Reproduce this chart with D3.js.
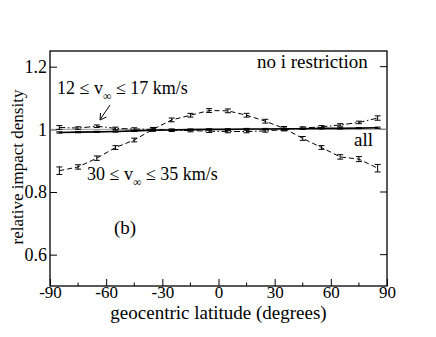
<!DOCTYPE html>
<html>
<head>
<meta charset="utf-8">
<script src="https://cdn.jsdelivr.net/npm/d3@7"></script>
<style>
  body { margin: 0; background: #fff; }
</style>
</head>
<body>
<div id="vis-container"></div>
<script>
const width = 436;
const height = 337;
const margin = { top: 51, right: 49, bottom: 51, left: 50 };
const serif = "'Liberation Serif', 'Times New Roman', Times, serif";

// latitude bin centres (degrees)
const latitudes = [-85, -75, -65, -55, -45, -35, -25, -15, -5, 5, 15, 25, 35, 45, 55, 65, 75, 85];

// 30 <= v_inf <= 35 km/s (dashed)
const fastVals = [0.868, 0.880, 0.908, 0.942, 0.966, 1.000, 1.030, 1.045, 1.060, 1.059, 1.045, 1.026, 1.003, 0.971, 0.942, 0.912, 0.905, 0.876];
const fastErr  = [0.012, 0.007, 0.007, 0.006, 0.006, 0.006, 0.006, 0.006, 0.006, 0.006, 0.006, 0.006, 0.006, 0.006, 0.006, 0.007, 0.008, 0.012];

// 12 <= v_inf <= 17 km/s (dash-dot)
const slowVals = [1.006, 1.004, 1.010, 1.003, 1.001, 1.000, 0.997, 0.996, 0.994, 0.993, 0.993, 0.995, 0.999, 1.004, 1.008, 1.014, 1.022, 1.036];
const slowErr  = [0.006, 0.004, 0.004, 0.004, 0.004, 0.004, 0.004, 0.004, 0.004, 0.004, 0.004, 0.004, 0.004, 0.004, 0.004, 0.004, 0.004, 0.007];

// all (solid)
const allVals = [0.990, 0.991, 0.992, 0.993, 0.995, 0.997, 0.998, 0.999, 1.000, 1.000, 1.001, 1.001, 1.002, 1.002, 1.003, 1.003, 1.004, 1.005];
const allErr  = [0.002, 0.002, 0.002, 0.002, 0.002, 0.002, 0.002, 0.002, 0.002, 0.002, 0.002, 0.002, 0.002, 0.002, 0.002, 0.002, 0.002, 0.002];

const xTicks = [-90, -60, -30, 0, 30, 60, 90];
const yTicks = [0.6, 0.8, 1, 1.2];

const svg = d3.select("#vis-container")
  .append("svg")
  .attr("width", width)
  .attr("height", height)
  .attr("font-family", serif);

const x = d3.scaleLinear()
  .domain([-90, 90])
  .range([margin.left, width - margin.right]);

const y = d3.scaleLinear()
  .domain([0.5, 1.25])
  .range([height - margin.bottom, margin.top]);

// frame
svg.append("rect")
  .attr("x", x(-90)).attr("y", y(1.25))
  .attr("width", x(90) - x(-90)).attr("height", y(0.5) - y(1.25))
  .attr("fill", "none").attr("stroke", "#000").attr("stroke-width", 1.3);

// bottom axis, ticks pointing inward, plain hyphen for minus
const xAxis = svg.append("g")
  .attr("transform", `translate(0,${y(0.5)})`)
  .call(d3.axisBottom(x).tickValues(xTicks).tickFormat((d) => String(d)).tickSizeInner(-7).tickSizeOuter(0).tickPadding(0));
xAxis.attr("font-family", serif);
xAxis.select(".domain").remove();
xAxis.selectAll("text").attr("font-size", "17px").attr("fill", "#000");

// minor x ticks
svg.selectAll(".xminor")
  .data(d3.range(-75, 90, 30))
  .enter().append("line")
  .attr("x1", (d) => x(d)).attr("x2", (d) => x(d))
  .attr("y1", y(0.5)).attr("y2", y(0.5) - 3.5)
  .attr("stroke", "#000");

// left axis
const yAxis = svg.append("g")
  .attr("transform", `translate(${x(-90)},0)`)
  .call(d3.axisLeft(y).tickValues(yTicks).tickFormat((d) => String(d)).tickSizeInner(-7).tickSizeOuter(0).tickPadding(3));
yAxis.attr("font-family", serif);
yAxis.select(".domain").remove();
yAxis.selectAll("text").attr("font-size", "18px").attr("fill", "#000");

// right ticks
svg.selectAll(".yright")
  .data(yTicks)
  .enter().append("line")
  .attr("x1", x(90)).attr("x2", x(90) - 7)
  .attr("y1", (d) => y(d)).attr("y2", (d) => y(d))
  .attr("stroke", "#000");

// reference line at 1
svg.append("line")
  .attr("x1", x(-90)).attr("x2", x(90))
  .attr("y1", y(1)).attr("y2", y(1))
  .attr("stroke", "#999").attr("stroke-width", 1);

const line = d3.line()
  .x((d) => x(d[0]))
  .y((d) => y(d[1]));

function drawSeries(vals, errs, dash, width) {
  const pts = latitudes.map((lat, i) => [lat, vals[i], errs[i]]);
  svg.append("path")
    .datum(pts)
    .attr("d", line)
    .attr("fill", "none")
    .attr("stroke", "#000")
    .attr("stroke-width", width)
    .attr("stroke-dasharray", dash);
  const g = svg.append("g");
  pts.forEach((p) => {
    const cx = x(p[0]);
    const top = y(p[1] + p[2]);
    const bot = y(p[1] - p[2]);
    g.append("line").attr("x1", cx).attr("x2", cx).attr("y1", top).attr("y2", bot).attr("stroke", "#000");
    g.append("line").attr("x1", cx - 3).attr("x2", cx + 3).attr("y1", top).attr("y2", top).attr("stroke", "#000");
    g.append("line").attr("x1", cx - 3).attr("x2", cx + 3).attr("y1", bot).attr("y2", bot).attr("stroke", "#000");
  });
}

drawSeries(allVals, allErr, null, 1.6);
drawSeries(slowVals, slowErr, "6,2.5,1.5,2.5", 1);
drawSeries(fastVals, fastErr, "5,3", 1);

// text labels
svg.append("text")
  .attr("x", 257).attr("y", 68)
  .attr("font-size", "19px")
  .text("no i restriction");

function vLabel(xPos, yPos, lo, hi) {
  const t = svg.append("text").attr("x", xPos).attr("y", yPos).attr("font-size", "18px");
  t.append("tspan").text(`${lo} ≤ v`);
  t.append("tspan").attr("dy", 6).attr("font-size", "12px").text("∞");
  t.append("tspan").attr("dy", -6).text(` ≤ ${hi} km/s`);
}
vLabel(57, 94, 12, 17);
vLabel(87, 180, 30, 35);

svg.append("text")
  .attr("x", 354).attr("y", 146)
  .attr("font-size", "19px")
  .text("all");

svg.append("text")
  .attr("x", 114).attr("y", 234)
  .attr("font-size", "19px")
  .text("(b)");

// arrow towards the 12-17 curve
svg.append("line")
  .attr("x1", 110).attr("y1", 105)
  .attr("x2", 100.5).attr("y2", 119)
  .attr("stroke", "#000");
svg.append("path")
  .attr("d", "M100,120 L100.5,113 M100,120 L106.5,117")
  .attr("fill", "none").attr("stroke", "#000");

// axis titles
svg.append("text")
  .attr("x", x(0)).attr("y", 319)
  .attr("text-anchor", "middle")
  .attr("font-size", "19px")
  .text("geocentric latitude (degrees)");

svg.append("text")
  .attr("transform", `translate(23,${167}) rotate(-90)`)
  .attr("text-anchor", "middle")
  .attr("font-size", "17px")
  .text("relative impact density");
</script>
</body>
</html>
